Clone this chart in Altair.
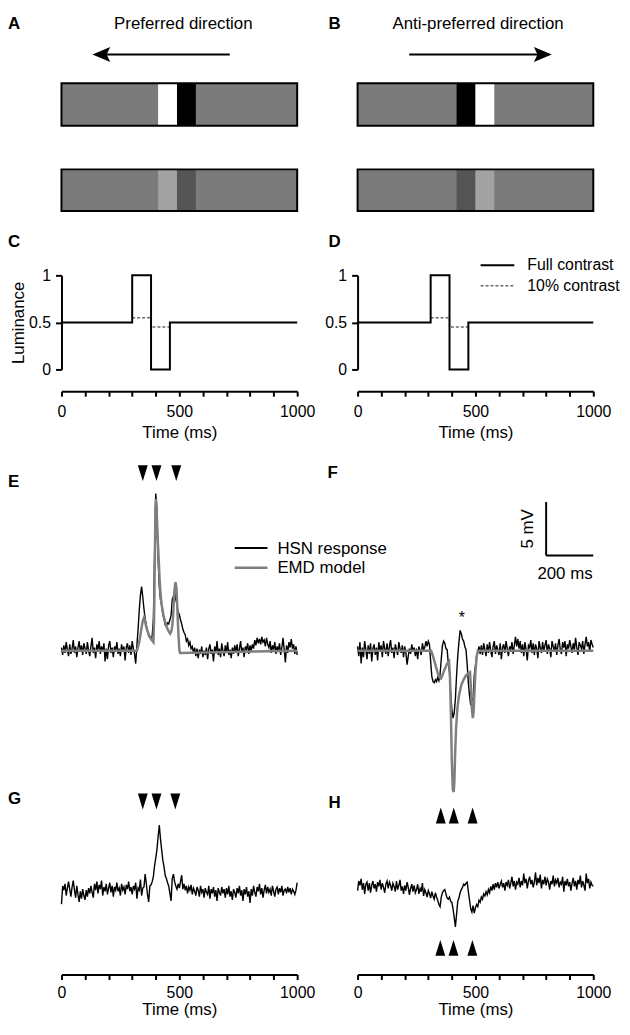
import altair as alt
import pandas as pd

FONT = "Liberation Sans"

# ---------------- A / B : stimulus schematic ----------------
# bar position units 0-1000, schematic height units 0-265
BAR_GRAY = "#7b7b7b"
A_STRIPE_START = [410, 490]
A_STRIPE_END = [490, 570]
A_FULL_COLORS = ["#ffffff", "#000000"]
A_LOW_COLORS = ["#a2a2a2", "#555555"]
B_STRIPE_START = [420, 500]
B_STRIPE_END = [500, 580]
B_FULL_COLORS = ["#000000", "#ffffff"]
B_LOW_COLORS = ["#555555", "#a2a2a2"]
BAR_BOTTOM = [151, 65]
BAR_TOP = [194, 107]
ARROW_Y = 223
A_ARROW = [714, 169]      # shaft start, head centre
B_ARROW = [219, 786]
HEAD_LEFT = "M -1 0 L 1 -0.83 L 0.6 0 L 1 0.83 Z"
HEAD_RIGHT = "M 1 0 L -1 -0.83 L -0.6 0 L -1 0.83 Z"

# ---------------- C / D : luminance ----------------
LUM_T_C = [0, 300, 380, 460, 1000]
LUM_T_D = [0, 310, 390, 470, 1000]
LUM_FULL = [0.5, 1.0, 0.0, 0.5, 0.5]
LUM_LOW = [0.55, 0.45, 0.45]

# ---------------- E-H : membrane potential (mV), 5 ms sampling ----------------
E_HSN = [
    0.3, -0.4, 0.5, -0.2, 0.8, 0.1, -0.5, 0.6, -0.3, 0.2,
    1.0, -0.2, 0.4, -0.6, 0.3, 0.9, -0.1, 0.5, -0.4, 0.7,
    0.2, -0.3, 0.8, 0.0, -0.5, 0.4, 1.2, -0.2, 0.3, -0.7,
    0.6, 0.1, 0.9, -0.3, 0.4, -0.1, 0.7, -1.0, 0.2, -0.8,
    0.5, 0.9, -0.2, 0.3, -0.6, 0.4, 0.0, 0.8, -0.3, 0.2,
    -0.5, 0.6, -0.1, 0.4, -0.9, 0.3, 0.7, -0.2, 0.5, -0.4,
    0.9, 0.2, -0.3, -1.2, 0.5, 2.0, 3.8, 5.2, 6.0, 5.0,
    3.9, 3.0, 2.4, 1.8, 1.4, 1.2, 1.1, 1.4, 3.0, 9.0,
    14.7, 13.2, 8.5, 6.0, 4.8, 4.3, 3.4, 3.0, 2.4, 2.3,
    2.6, 2.5, 2.9, 3.3, 4.8, 5.1, 4.6, 5.3, 4.2, 3.6,
    3.4, 2.9, 2.5, 2.0, 1.7, 1.5, 0.9, 1.1, 0.5, 0.8,
    0.2, 0.4, -0.2, 0.3, -0.5, 0.2, -0.7, 0.1, -0.3, 0.4,
    -0.6, 0.0, -0.4, 0.3, -0.8, 0.2, 0.6, -0.3, 0.1, -1.0,
    0.4, -0.2, 0.9, -0.4, 0.2, -0.6, 0.7, 0.0, -0.5, 0.5,
    -0.2, 0.8, -0.4, 0.1, -0.7, 0.3, -0.3, 0.5, -0.1, 0.6,
    -0.5, 0.2, 0.9, -0.2, 0.3, -0.6, 0.4, 0.1, 0.7, -0.3,
    0.5, 0.0, 0.6, 0.2, 1.0, 0.5, 1.2, 0.7, 1.1, 0.6,
    1.3, 0.8, 1.0, 0.4, 1.2, 0.6, 0.3, 0.9, -0.2, 0.5,
    0.1, 0.8, -0.3, 0.4, 0.0, 0.7, -0.4, 0.3, 1.2, 0.1,
    -1.1, 0.5, -0.2, 0.8, 0.3, 1.1, 0.2, 0.6, -0.3, 0.4,
    -0.4,
]
E_EMD_T = [0, 320, 330, 340, 345, 350, 355, 360, 370, 380, 390, 393, 396, 399, 401,
           404, 408, 412, 416, 420, 425, 433, 440, 447, 455, 461, 466, 470, 474, 478,
           481, 484, 488, 492, 496, 500, 503, 1000]
E_EMD_V = [0, 0, 0.8, 2.2, 2.8, 3.1, 2.7, 2.2, 1.5, 1.1, 0.8, 3.0, 8.5, 13.5, 14.2,
           13.0, 10.5, 8.8, 6.8, 5.4, 4.3, 3.3, 2.7, 2.2, 1.8, 1.6, 1.8, 2.3, 3.4, 5.3,
           6.0, 6.4, 5.8, 3.7, 1.6, 0.1, -0.2, 0]

F_HSN = [
    0.4, -0.5, 0.8, -1.2, 0.3, -0.6, 0.9, 0.1, -0.8, 0.5,
    -0.3, 0.7, -1.0, 0.2, 0.6, -0.4, 0.3, -0.9, 0.8, 0.0,
    0.5, -0.6, 0.9, 0.2, -0.3, 0.7, -0.5, 0.4, 1.0, -0.2,
    0.3, -0.7, 0.6, 0.1, -0.4, 0.8, 0.2, -0.2, 0.5, -0.6,
    0.4, -0.2, -1.3, -0.5, 0.2, -0.3, 0.6, -0.1, 0.3, -0.5,
    0.2, -0.8, 0.4, 0.0, -0.4, 0.7, 0.1, 0.3, 0.9, 0.4,
    0.9, 0.6, -1.0, -2.4, -2.9, -3.0, -2.7, -2.9, -2.5, -2.8,
    -2.2, -0.8, 0.5, 0.9, 0.7, 0.2, 0.1, -1.2, -2.0, -4.0,
    -5.5, -6.3, -5.8, -4.5, -2.3, -0.5, 0.8, 1.9, 1.6, 1.1,
    0.9, 0.4, 0.1, -1.3, -3.0, -4.2, -5.1, -4.5, -4.6, -2.3,
    -1.4, -0.5, -0.1, 0.4, -0.3, 0.5, -0.4, 0.7, 0.1, -0.5,
    0.6, -0.2, 0.8, 0.0, -0.6, 0.4, 0.9, -0.3, 0.5, 0.1,
    -0.4, 0.7, -0.8, 0.3, 0.6, -0.2, 0.9, 0.2, -0.5, 0.4,
    0.1, 0.8, -0.3, 0.5, 1.3, 0.4, 1.1, 0.2, 0.9, -0.2,
    0.6, -0.5, 0.8, 0.1, -0.9, 0.5, 0.3, 1.0, -0.2, 0.7,
    -0.4, 0.6, 0.2, -0.7, 0.9, 0.3, -0.2, 0.8, 0.0, 0.5,
    1.0, -0.3, 0.6, 0.2, -0.6, 0.9, 0.4, 0.0, 0.7, -0.4,
    0.5, 1.1, 0.1, -0.3, 0.8, 0.3, 0.9, -0.5, 0.6, 0.2,
    1.0, 0.4, -0.2, 0.7, 0.1, 1.2, 0.3, -0.4, 0.8, 0.5,
    0.2, 0.9, -0.3, 0.6, 1.3, 0.4, 0.8, -0.1, 1.0, 0.6,
    0.3,
]
F_EMD_T = [0, 312, 320, 330, 340, 348, 354, 360, 370, 380, 388, 392, 396, 400, 404,
           408, 411, 414, 418, 423, 430, 440, 450, 460, 470, 477, 481, 485, 489, 492,
           496, 500, 505, 510, 1000]
F_EMD_V = [0, 0, -0.5, -1.3, -2.1, -2.5, -2.6, -2.3, -1.7, -1.2, -1.0, -2.5, -6.0, -10.5, -13.0,
           -13.2, -12.0, -9.5, -7.2, -5.5, -4.2, -3.2, -2.7, -2.3, -2.1, -2.0, -3.5, -5.5, -6.3, -5.8,
           -3.8, -2.0, -0.6, 0, 0]

G_HSN = [
    -1.1, 0.6, 0.2, 0.8, -0.3, 0.4, 1.0, 0.3, -0.4, 0.5,
    1.1, 0.2, -0.5, 0.6, -0.2, -0.9, 0.1, -0.6, 0.3, -0.3,
    -0.7, 0.2, -0.4, 0.4, -0.1, 0.6, 0.0, -0.5, 0.8, 0.2,
    1.0, -0.1, 0.7, 0.3, 1.1, -0.3, 0.5, 0.1, 0.8, -0.2,
    0.4, 0.9, 0.0, 0.6, -0.4, 0.5, 0.2, 0.9, 0.1, 0.4,
    -0.3, 0.8, 0.2, 0.5, -0.2, 0.7, 0.3, 1.0, 0.1, 0.5,
    -0.2, 0.6, 0.3, 0.9, -0.6, 0.4, 0.2, 1.2, -0.3, 0.4,
    0.5, 1.7, 0.8, -0.2, -0.9, 0.6, 0.7, 1.0, 1.5, 2.5,
    3.2, 4.0, 5.2, 6.3, 5.0, 4.0, 3.0, 2.4, 1.6, 1.3,
    0.9, 0.6, -0.1, -0.8, 1.3, 1.7, 1.0, 0.6, 0.3, 0.8,
    0.4, 1.0, 1.6, 0.3, 0.8, 0.2, 0.6, -0.1, 0.5, 0.2,
    0.7, -0.2, 0.4, 0.1, -0.3, 0.5, 0.2, -0.4, 0.6, 0.0,
    0.3, -0.5, 0.4, 0.0, -0.2, 0.6, -0.6, 0.3, -0.1, 0.5,
    -0.4, 0.2, -0.8, 0.4, 0.0, -0.3, 0.5, -0.1, 0.3, -0.5,
    0.4, -0.2, 0.6, -0.4, 0.1, -0.7, 0.3, 0.0, -0.5, 0.4,
    -0.1, 0.6, -0.3, 0.2, -0.8, 0.3, -0.2, 0.5, -0.4, 0.1,
    -1.0, 0.3, -0.3, 0.6, 0.0, -0.4, 0.5, 0.1, 0.8, -0.2,
    0.4, -0.5, 0.2, 0.7, -0.1, 0.5, 0.0, 0.3, -0.3, 0.6,
    0.1, -0.4, 0.3, 0.5, -0.2, 0.4, 0.0, 0.6, -0.3, 0.2,
    0.3, -0.1, 0.5, 0.0, 0.4, -0.2, 0.3, 0.1, -0.2, 0.2,
    0.9,
]

H_HSN = [
    -0.3, 0.6, 0.2, 0.8, -0.2, 0.4, -0.6, 0.3, 0.5, -0.3,
    0.4, -0.5, 0.2, 0.6, -0.1, 0.3, -0.4, 0.5, 0.1, 0.7,
    -0.2, 0.4, 0.0, -0.5, 0.3, 0.6, -0.1, 0.5, 0.2, -0.3,
    0.4, 0.1, -0.4, 0.6, -0.2, 0.2, 0.7, -0.3, 0.1, -0.6,
    0.2, -0.3, 0.5, 0.0, -0.7, -0.1, 0.3, -0.4, 0.2, -0.5,
    -0.2, 0.3, -0.6, -0.1, -0.4, 0.4, -0.8, -0.2, -0.5, -0.9,
    -0.3, -0.6, -1.0, -0.4, -0.8, -1.1, -0.5, -0.9, -1.2, -1.6,
    -1.8, -0.9, -0.5, -0.3, -0.2, -0.6, -1.0, -1.1, -0.9, -1.3,
    -1.4, -2.0, -2.8, -3.7, -2.5, -1.3, -1.0, -0.5, -0.2, 0.0,
    0.3, 0.2, 0.4, 0.5, -0.4, -1.2, -2.0, -2.3, -1.7, -2.4,
    -1.9, -1.6, -1.8, -1.2, -1.4, -0.9, -1.1, -0.6, -0.8, -0.4,
    -0.7, -0.2, -0.5, 0.1, -0.3, 0.3, -0.2, 0.4, 0.0, 0.5,
    -0.1, 0.3, 0.6, 0.0, 0.4, -0.3, 0.5, 0.2, 0.7, -0.1,
    0.4, 1.0, 0.1, 0.6, -0.2, 0.5, 0.3, 0.9, 0.0, 0.6,
    0.2, 1.3, 0.4, 0.8, -0.1, 0.6, 1.0, 0.3, 0.7, 0.0,
    0.5, 1.4, 0.2, 0.9, 0.4, 1.2, -0.1, 0.7, 0.3, 1.0,
    0.2, 0.8, 0.5, -0.2, 0.6, 0.3, 1.1, 0.1, 0.7, 0.4,
    0.9, 0.0, 0.5, 0.3, 1.0, -0.4, 0.6, 0.2, 0.8, 0.1,
    0.5, -0.3, 0.4, 0.9, 0.1, 0.6, -0.2, 0.7, 0.3, 1.1,
    0.0, 0.6, 0.2, -0.3, 1.3, 0.4, 0.8, -0.1, 0.5, 0.2,
    0.1,
]
SAMPLE_MS = 5

# arrowheads (stimulus edge times) and their heights (mV)
E_MARK_T = [345, 403, 487]
F_MARK_T = [353, 408, 488]
G_MARK_T = [345, 403, 483]
H_MARK_T = [351, 407, 487]
TRI_DOWN = "M -0.625 -1 L 0.625 -1 L 0 1 Z"
TRI_UP = "M -0.625 1 L 0.625 1 L 0 -1 Z"

# ---------------- layout ----------------
PW = 238
ROW_H = [265, 95, 460, 145]
X_DOM = [0, 1000]
SCHEM_DOM = [0, 265]
LUM_DOM = [0, 1]
EF_DOM = [-16.29, 26.3]
G_DOM = [-7.13, 6.30]
H_DOM = [-7.59, 5.84]
LEFT_LETTER_X = -227
RIGHT_LETTER_X = -123


def qx(field, dom, axis=None):
    return alt.X(f"{field}:Q", scale=alt.Scale(domain=dom, nice=False, zero=False), axis=axis)


def qy(field, dom, axis=None):
    return alt.Y(f"{field}:Q", scale=alt.Scale(domain=dom, nice=False, zero=False), axis=axis)


def texts(labels, xs, ys, xdom, ydom, size=17, weight="normal", align="left",
          baseline="middle", angle=0, xaxis=None, yaxis=None):
    df = pd.DataFrame({"x": xs, "y": ys, "label": labels})
    return alt.Chart(df).mark_text(
        font=FONT, fontSize=size, fontWeight=weight, align=align,
        baseline=baseline, angle=angle, color="black"
    ).encode(x=qx("x", xdom, xaxis), y=qy("y", ydom, yaxis), text="label:N")


def time_axis(offset, label_pad=8, title_pad=5):
    return alt.Axis(
        values=list(range(0, 1001, 100)), format="d",
        labelExpr="datum.value % 500 === 0 ? datum.label : ''",
        tickSize=5, tickWidth=2, domainWidth=2, domainColor="black", tickColor="black",
        labelColor="black", labelFont=FONT, labelFontSize=16, labelPadding=label_pad,
        labelFlush=False, labelOverlap=False, grid=False,
        title="Time (ms)", titleFont=FONT, titleFontSize=17, titleFontWeight="normal",
        titleColor="black", titlePadding=title_pad, offset=offset,
    )


def lum_axis(title):
    return alt.Axis(
        values=[0, 0.5, 1], format=".1~f", tickSize=6, tickWidth=2, domainWidth=2,
        domainColor="black", tickColor="black", labelColor="black", labelFont=FONT,
        labelFontSize=16, labelPadding=5, grid=False,
        title=title, titleFont=FONT, titleFontSize=17, titleFontWeight="normal",
        titleColor="black", titleX=-51, titleY=47.5, titleAngle=270,
        titleBaseline="top", titleAlign="center",
    )


def stim_panel(letter, letter_x, title, title_x, arrow, head_shape,
               s_start, s_end, full_cols, low_cols):
    bars = pd.DataFrame({"x0": [0, 0], "x1": [1000, 1000], "y0": BAR_BOTTOM, "y1": BAR_TOP})
    stripes = pd.DataFrame({
        "x0": s_start + s_start,
        "x1": s_end + s_end,
        "y0": [BAR_BOTTOM[0]] * 2 + [BAR_BOTTOM[1]] * 2,
        "y1": [BAR_TOP[0]] * 2 + [BAR_TOP[1]] * 2,
        "c": full_cols + low_cols,
    })
    enc = dict(x=qx("x0", X_DOM), x2="x1", y=qy("y0", SCHEM_DOM), y2="y1")
    bg = alt.Chart(bars).mark_rect(color=BAR_GRAY).encode(**enc)
    st = alt.Chart(stripes).mark_rect().encode(color=alt.Color("c:N", scale=None), **enc)
    outline = alt.Chart(bars).mark_rect(filled=False, stroke="black", strokeWidth=2).encode(**enc)
    shaft = alt.Chart(pd.DataFrame({"x0": [arrow[0]], "x1": [arrow[1]], "y": [ARROW_Y]})).mark_rule(
        color="black", strokeWidth=2).encode(x=qx("x0", X_DOM), x2="x1", y=qy("y", SCHEM_DOM))
    head = alt.Chart(pd.DataFrame({"x": [arrow[1]], "y": [ARROW_Y]})).mark_point(
        shape=head_shape, filled=True, size=324, color="black", opacity=1, strokeWidth=0
    ).encode(x=qx("x", X_DOM), y=qy("y", SCHEM_DOM))
    let = texts([letter], [letter_x], [254], X_DOM, SCHEM_DOM, weight="bold")
    ttl = texts([title], [title_x], [254], X_DOM, SCHEM_DOM, align="center")
    return alt.layer(bg, st, outline, shaft, head, let, ttl).properties(width=PW, height=ROW_H[0])


def lum_panel(letter, letter_x, times, ytitle, legend):
    xa = time_axis(22)
    ya = lum_axis(ytitle)
    full = pd.DataFrame({"t": times, "v": LUM_FULL})
    low = pd.DataFrame({"t": times[1:4], "v": LUM_LOW})
    l_full = alt.Chart(full).mark_line(interpolate="step-after", color="black", strokeWidth=2).encode(
        x=qx("t", X_DOM, xa), y=qy("v", LUM_DOM, ya))
    l_low = alt.Chart(low).mark_line(interpolate="step-after", color="#6a6a6a", strokeWidth=1.5,
                                     strokeDash=[3, 2]).encode(x=qx("t", X_DOM, xa), y=qy("v", LUM_DOM, ya))
    layers = [l_low, l_full,
              texts([letter], [letter_x], [1.35], X_DOM, LUM_DOM, weight="bold", xaxis=xa, yaxis=ya)]
    if legend:
        leg = pd.DataFrame({"x0": [522, 522], "x1": [665, 665], "y": [1.108, 0.89],
                            "k": ["Full contrast", "10% contrast"]})
        solid = alt.Chart(leg.iloc[[0]]).mark_rule(color="black", strokeWidth=2).encode(
            x=qx("x0", X_DOM, xa), x2="x1", y=qy("y", LUM_DOM, ya))
        dashed = alt.Chart(leg.iloc[[1]]).mark_rule(color="#6a6a6a", strokeWidth=1.5, strokeDash=[3, 2]).encode(
            x=qx("x0", X_DOM, xa), x2="x1", y=qy("y", LUM_DOM, ya))
        layers += [solid, dashed,
                   texts(["Full contrast", "10% contrast"], [720, 720], [1.105, 0.891], X_DOM, LUM_DOM,
                         size=16, xaxis=xa, yaxis=ya)]
    return alt.layer(*layers).properties(width=PW, height=ROW_H[1])


def trace_df(vals):
    return pd.DataFrame({"t": [SAMPLE_MS * i for i in range(len(vals))], "v": vals})


def marks(ts, yv, shape, ydom, xa=None):
    df = pd.DataFrame({"t": ts, "v": [yv] * len(ts)})
    return alt.Chart(df).mark_point(shape=shape, filled=True, size=256, color="black",
                                    opacity=1, strokeWidth=0).encode(
        x=qx("t", X_DOM, xa), y=qy("v", ydom))


def hsn_line(vals, ydom, xa=None):
    return alt.Chart(trace_df(vals)).mark_line(color="black", strokeWidth=1.4).encode(
        x=qx("t", X_DOM, xa), y=qy("v", ydom))


def emd_line(ts, vs, ydom):
    return alt.Chart(pd.DataFrame({"t": ts, "v": vs})).mark_line(color="#7f7f7f", strokeWidth=2.5).encode(
        x=qx("t", X_DOM), y=qy("v", ydom))


# ---- panels ----
pA = stim_panel("A", LEFT_LETTER_X, "Preferred direction", 517, A_ARROW, HEAD_LEFT,
                A_STRIPE_START, A_STRIPE_END, A_FULL_COLORS, A_LOW_COLORS)
pB = stim_panel("B", RIGHT_LETTER_X, "Anti-preferred direction", 511, B_ARROW, HEAD_RIGHT,
                B_STRIPE_START, B_STRIPE_END, B_FULL_COLORS, B_LOW_COLORS)

pC = lum_panel("C", LEFT_LETTER_X, LUM_T_C, "Luminance", False)
pD = lum_panel("D", RIGHT_LETTER_X, LUM_T_D, "", True)

e_leg = pd.DataFrame({"x0": [735, 735], "x1": [874, 874], "y": [9.6, 7.75], "k": ["HSN", "EMD"]})
pE = alt.layer(
    hsn_line(E_HSN, EF_DOM),
    emd_line(E_EMD_T, E_EMD_V, EF_DOM),
    marks(E_MARK_T, 16.6, TRI_DOWN, EF_DOM),
    alt.Chart(e_leg.iloc[[0]]).mark_rule(color="black", strokeWidth=2).encode(
        x=qx("x0", X_DOM), x2="x1", y=qy("y", EF_DOM)),
    alt.Chart(e_leg.iloc[[1]]).mark_rule(color="#7f7f7f", strokeWidth=2.5).encode(
        x=qx("x0", X_DOM), x2="x1", y=qy("y", EF_DOM)),
    texts(["HSN response", "EMD model"], [916, 916], [9.5, 7.7], X_DOM, EF_DOM),
    texts(["E"], [LEFT_LETTER_X], [15.8], X_DOM, EF_DOM, weight="bold"),
).properties(width=PW, height=ROW_H[2])

sb = pd.DataFrame({"x0": [800, 800], "x1": [800, 1000], "y0": [8.9, 8.9], "y1": [13.9, 8.9]})
pF = alt.layer(
    hsn_line(F_HSN, EF_DOM),
    emd_line(F_EMD_T, F_EMD_V, EF_DOM),
    marks(F_MARK_T, -15.4, TRI_UP, EF_DOM),
    alt.Chart(sb).mark_rule(color="black", strokeWidth=2).encode(
        x=qx("x0", X_DOM), x2="x1", y=qy("y0", EF_DOM), y2="y1"),
    texts(["5 mV"], [724], [11.4], X_DOM, EF_DOM, align="center", angle=270),
    texts(["200 ms"], [880], [7.2], X_DOM, EF_DOM, align="center"),
    texts(["*"], [442], [2.6], X_DOM, EF_DOM, size=16, align="center", baseline="alphabetic"),
    texts(["F"], [-128], [16.6], X_DOM, EF_DOM, weight="bold"),
).properties(width=PW, height=ROW_H[2])

gx = time_axis(6, label_pad=5, title_pad=1)
pG = alt.layer(
    hsn_line(G_HSN, G_DOM, gx),
    marks(G_MARK_T, 8.5, TRI_DOWN, G_DOM, gx),
    texts(["G"], [LEFT_LETTER_X], [8.75], X_DOM, G_DOM, weight="bold", xaxis=gx),
).properties(width=PW, height=ROW_H[3])

pH = alt.layer(
    hsn_line(H_HSN, H_DOM, gx),
    marks(H_MARK_T, -5.65, TRI_UP, H_DOM, gx),
    texts(["H"], [RIGHT_LETTER_X], [7.87], X_DOM, H_DOM, weight="bold", xaxis=gx),
).properties(width=PW, height=ROW_H[3])

# fixed origin: plot area of the left column starts 54 px right of the page margin;
# the drawing is 620 x 1015 px so the page needs no scrolling
chart = alt.concat(
    pA, pB, pC, pD, pE, pF, pG, pH,
    columns=2, spacing={"row": 0, "column": 61}, bounds="flush",
    autosize=alt.AutoSizeParams(type="none"),
    padding={"left": 54, "top": 0, "right": 566, "bottom": 1015},
).configure(font=FONT).configure_view(stroke=None)

chart.save("out.html", embed_options={"renderer": "svg", "actions": False})
